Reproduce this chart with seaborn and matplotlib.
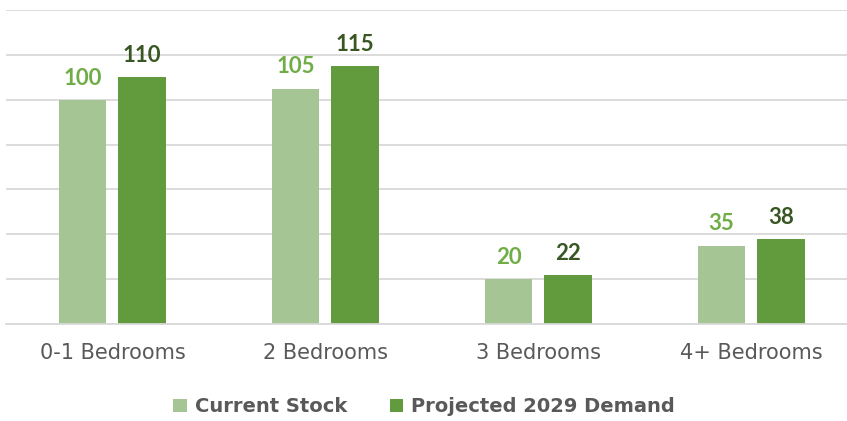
import pandas as pd
import seaborn as sns
import matplotlib.pyplot as plt

categories = ['0-1 Bedrooms', '2 Bedrooms', '3 Bedrooms', '4+ Bedrooms']
current_stock = [100, 105, 20, 35]
projected_demand = [110, 115, 22, 38]
series_names = ['Current Stock', 'Projected 2029 Demand']

df = pd.DataFrame({
    'cat': categories * 2,
    'val': current_stock + projected_demand,
    'series': [series_names[0]] * 4 + [series_names[1]] * 4,
})

sns.set_style('white')
plt.rcParams['font.family'] = ['DejaVu Sans']

bar_colors = ['#A5C594', '#629B3E']
label_colors = ['#70AD47', '#385723']

fig = plt.figure(figsize=(8.47, 4.21), dpi=100)
ax = fig.add_axes([6 / 847, 97 / 421, 841 / 847, 314 / 421])

sns.barplot(data=df, x='cat', y='val', hue='series', palette=bar_colors,
            width=0.56, gap=0.2, saturation=1, linewidth=0, ax=ax, legend=True)

for cont, col in zip(ax.containers, label_colors):
    ax.bar_label(cont, padding=8, color=col, fontsize=16, fontweight='bold',
                 family='Lato')

ax.set_ylim(0, 140)
ax.set_xlim(-0.5, 3.45)
ax.set_yticks(range(0, 141, 20))
ax.set_yticklabels([])
ax.yaxis.grid(True, color='#D9D9D9', lw=1.3)
ax.set_axisbelow(True)
for s in ['top', 'right', 'left']:
    ax.spines[s].set_visible(False)
ax.spines['bottom'].set_color('#D9D9D9')
ax.spines['bottom'].set_linewidth(1.3)
ax.tick_params(axis='x', length=0, pad=14, labelsize=15, labelcolor='#595959')
ax.tick_params(axis='y', length=0)
ax.set_xlabel('')
ax.set_ylabel('')

ax.legend(loc='lower center', bbox_to_anchor=(0.497, -0.35),
          ncol=2, frameon=False, handlelength=0.7, handleheight=0.7,
          columnspacing=2.2, handletextpad=0.4,
          prop={'family': 'DejaVu Sans', 'weight': 'bold', 'size': 14})
for t in ax.get_legend().get_texts():
    t.set_color('#595959')

fig.savefig('out.png', dpi=100)
